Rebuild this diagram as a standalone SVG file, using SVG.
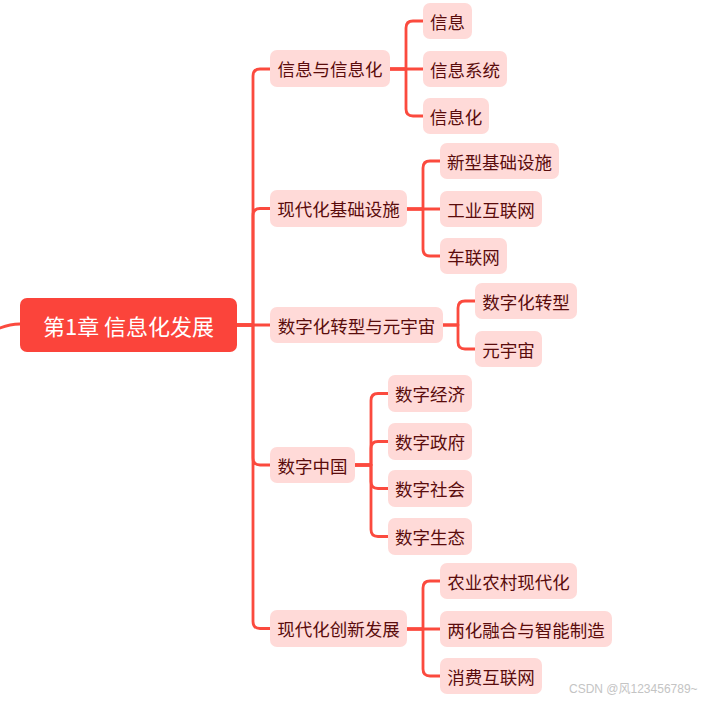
<svg xmlns="http://www.w3.org/2000/svg" width="723" height="704" viewBox="0 0 723 704">
<style>
.e{fill:none;stroke:#fb4a3e;stroke-width:2.8;stroke-linecap:round;stroke-linejoin:round}
.n rect{fill:#ffdad8}
.n text{font-family:"Microsoft YaHei","Noto Sans CJK SC",sans-serif;font-size:17.5px;fill:#5a0c0c;text-anchor:middle;dominant-baseline:central}
.root rect{fill:#fb443b}
.root text{font-family:"Microsoft YaHei","Noto Sans CJK SC",sans-serif;font-size:22px;fill:#ffffff;text-anchor:middle;dominant-baseline:central}
.wm{font-family:"Liberation Sans","Noto Sans CJK SC",sans-serif;font-size:12px;fill:#c4c4c4}
</style>
<rect width="723" height="704" fill="#ffffff"/>
<g id="connectors">
<path class="e" d="M0 328 Q10 324 20 324"/>
<path class="e" d="M237 325 H253 V76 Q253 69 260 69 H270"/>
<path class="e" d="M237 325 H253 V215.5 Q253 208.5 260 208.5 H270"/>
<path class="e" d="M237 325 H270"/>
<path class="e" d="M237 325 H253 V458 Q253 465 260 465 H270"/>
<path class="e" d="M237 325 H253 V621.5 Q253 628.5 260 628.5 H270"/>
<path class="e" d="M390 69 H406 V28 Q406 21 413 21 H423"/>
<path class="e" d="M390 69 H423"/>
<path class="e" d="M390 69 H406 V109 Q406 116 413 116 H423"/>
<path class="e" d="M407 209 H423 V168 Q423 161 430 161 H440"/>
<path class="e" d="M407 209 H440"/>
<path class="e" d="M407 209 H423 V249 Q423 256 430 256 H440"/>
<path class="e" d="M443 325 H458 V308 Q458 301 465 301 H475"/>
<path class="e" d="M443 325 H458 V342 Q458 349 465 349 H475"/>
<path class="e" d="M355 465 H371 V400.5 Q371 393.5 378 393.5 H388"/>
<path class="e" d="M355 465 H371 V448.5 Q371 441.5 378 441.5 H388"/>
<path class="e" d="M355 465 H371 V481.5 Q371 488.5 378 488.5 H388"/>
<path class="e" d="M355 465 H371 V529.5 Q371 536.5 378 536.5 H388"/>
<path class="e" d="M407 629 H423 V588 Q423 581 430 581 H440"/>
<path class="e" d="M407 629 H440"/>
<path class="e" d="M407 629 H423 V669 Q423 676 430 676 H440"/>
</g>
<g id="root" class="root"><rect x="20" y="298" width="217" height="54" rx="7"/><text x="128.5" y="325">第1章 信息化发展</text></g>
<g id="n1" class="n"><rect x="270" y="50" width="120" height="37" rx="7"/><text x="330" y="68.5">信息与信息化</text></g>
<g id="n2" class="n"><rect x="270" y="190" width="137" height="37" rx="7"/><text x="338.5" y="208.5">现代化基础设施</text></g>
<g id="n3" class="n"><rect x="270" y="307" width="173" height="36" rx="7"/><text x="356.5" y="325">数字化转型与元宇宙</text></g>
<g id="n4" class="n"><rect x="270" y="447" width="85" height="36" rx="7"/><text x="312.5" y="465">数字中国</text></g>
<g id="n5" class="n"><rect x="270" y="610" width="137" height="37" rx="7"/><text x="338.5" y="628.5">现代化创新发展</text></g>
<g id="n1a" class="n"><rect x="423" y="3" width="49" height="36" rx="7"/><text x="447.5" y="21">信息</text></g>
<g id="n1b" class="n"><rect x="423" y="51" width="84" height="36" rx="7"/><text x="465" y="69">信息系统</text></g>
<g id="n1c" class="n"><rect x="423" y="98" width="66" height="36" rx="7"/><text x="456" y="116">信息化</text></g>
<g id="n2a" class="n"><rect x="440" y="143" width="119" height="36" rx="7"/><text x="499.5" y="161">新型基础设施</text></g>
<g id="n2b" class="n"><rect x="440" y="191" width="102" height="36" rx="7"/><text x="491" y="209">工业互联网</text></g>
<g id="n2c" class="n"><rect x="440" y="238" width="67" height="36" rx="7"/><text x="473.5" y="256">车联网</text></g>
<g id="n3a" class="n"><rect x="475" y="283" width="102" height="36" rx="7"/><text x="526" y="301">数字化转型</text></g>
<g id="n3b" class="n"><rect x="475" y="331" width="67" height="36" rx="7"/><text x="508.5" y="349">元宇宙</text></g>
<g id="n4a" class="n"><rect x="388" y="375" width="84" height="37" rx="7"/><text x="430" y="393.5">数字经济</text></g>
<g id="n4b" class="n"><rect x="388" y="423" width="84" height="37" rx="7"/><text x="430" y="441.5">数字政府</text></g>
<g id="n4c" class="n"><rect x="388" y="470" width="84" height="37" rx="7"/><text x="430" y="488.5">数字社会</text></g>
<g id="n4d" class="n"><rect x="388" y="518" width="84" height="37" rx="7"/><text x="430" y="536.5">数字生态</text></g>
<g id="n5a" class="n"><rect x="440" y="563" width="137" height="36" rx="7"/><text x="508.5" y="581">农业农村现代化</text></g>
<g id="n5b" class="n"><rect x="440" y="611" width="172" height="36" rx="7"/><text x="526" y="629">两化融合与智能制造</text></g>
<g id="n5c" class="n"><rect x="440" y="658" width="102" height="36" rx="7"/><text x="491" y="676">消费互联网</text></g>
<text class="wm" x="569" y="693">CSDN @风123456789~</text>
</svg>
